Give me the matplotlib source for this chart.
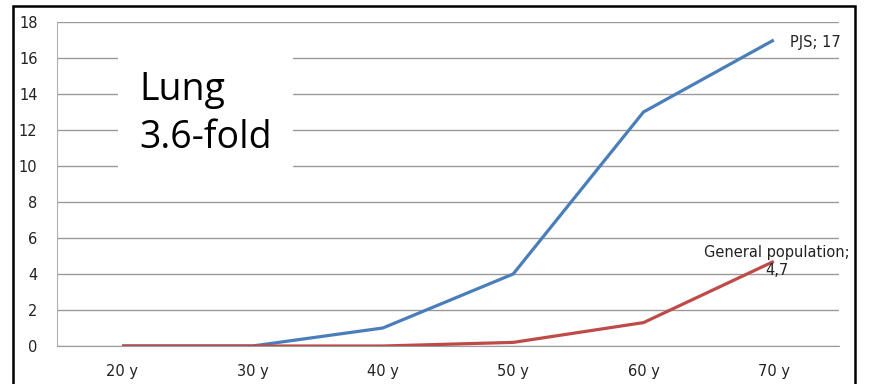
import matplotlib
matplotlib.use('Agg')
import matplotlib.pyplot as plt
from matplotlib.patches import Rectangle

ages = ['20 y', '30 y', '40 y', '50 y', '60 y', '70 y']
pjs = [0, 0, 1, 4, 13, 17]
general = [0, 0, 0, 0.2, 1.3, 4.7]
yticks = list(range(0, 19, 2))

BLUE = '#4a7ebb'
RED = '#be4b48'
W, H = 869, 384

fig = plt.figure(figsize=(W / 100, H / 100), dpi=100)
ax = fig.add_axes([57 / W, 1 - 346 / H, (839 - 57) / W, (346 - 22) / H])

x = list(range(len(ages)))
ax.plot(x, pjs, color=BLUE, lw=2.3, solid_capstyle='butt', zorder=3)
ax.plot(x, general, color=RED, lw=2.3, solid_capstyle='butt', zorder=4)

ax.set_xlim(-0.5, len(ages) - 0.5)
ax.set_ylim(0, 18)
ax.set_yticks(yticks)
ax.set_xticks(x)
ax.set_xticklabels(ages)
ax.tick_params(axis='both', length=0, labelsize=10.5, colors='#222222')
ax.tick_params(axis='y', pad=14)
ax.tick_params(axis='x', pad=13)
ax.yaxis.grid(True, color='#9a9a9a', lw=1.0, zorder=0)
ax.set_axisbelow(True)
for side in ('top', 'right'):
    ax.spines[side].set_visible(False)
ax.spines['left'].set_color('#b0b0b0')
ax.spines['bottom'].set_color('#9a9a9a')

# data labels at the last point of each series
ax.annotate('PJS; %g' % pjs[-1], (x[-1], pjs[-1]), xytext=(12, -2),
            textcoords='offset points', ha='left', va='center', fontsize=10.5,
            color='#222222')
ax.annotate('General population;\n%s' % str(general[-1]).replace('.', ','),
            (x[-1], general[-1]), xytext=(2, 0), textcoords='offset points',
            ha='center', va='center', fontsize=10.5, color='#222222',
            linespacing=1.2, zorder=5)

# white text box over the grid
fig.patches.append(Rectangle((118 / W, 1 - 186 / H), (293 - 118) / W, (186 - 45) / H,
                             transform=fig.transFigure, facecolor='white',
                             edgecolor='none', zorder=2))
fig.text(139 / W, 1 - 90 / H, 'Lung', fontsize=27, family='Open Sans',
         va='center', ha='left', zorder=3)
fig.text(139 / W, 1 - 138 / H, '3.6-fold', fontsize=27, family='Open Sans',
         va='center', ha='left', zorder=3)

# outer frame
fig.patches.append(Rectangle((12.5 / W, -0.1), (855 - 12.5) / W, 1.1 - 6.5 / H,
                             transform=fig.transFigure, facecolor='none',
                             edgecolor='black', lw=1.8, zorder=10))

fig.savefig('out.png', dpi=100)
